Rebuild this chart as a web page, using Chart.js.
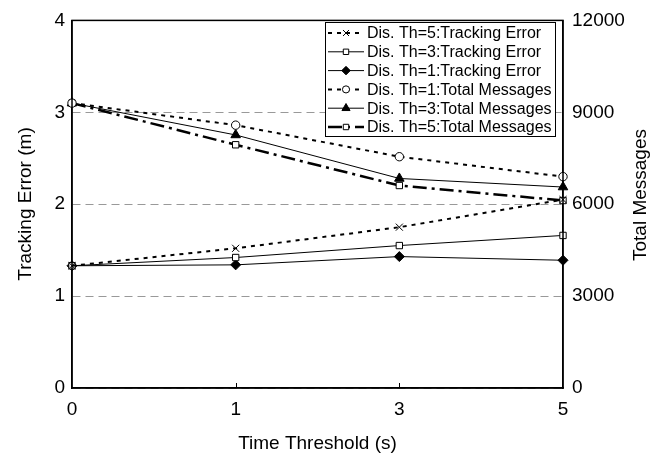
<!DOCTYPE html>
<html>
<head>
<meta charset="utf-8">
<script src="https://cdn.jsdelivr.net/npm/chart.js@4.4.1/dist/chart.umd.min.js"></script>
<style>
html,body{margin:0;padding:0;background:#fff;}
#wrap{width:656px;height:456px;position:relative;}
</style>
</head>
<body>
<div id="wrap"><canvas id="c" width="656" height="456"></canvas></div>
<script>
// Data
const categories = ['0', '1', '3', '5'];
const te_th5 = [1.33, 1.52, 1.75, 2.05];
const te_th3 = [1.33, 1.42, 1.55, 1.66];
const te_th1 = [1.33, 1.34, 1.43, 1.39];
const tm_th1 = [9300, 8580, 7550, 6900];
const tm_th3 = [9300, 8260, 6840, 6560];
const tm_th5 = [9300, 7940, 6610, 6120];
const leftTicks = [0, 1, 2, 3, 4];
const rightTicks = [0, 3000, 6000, 9000, 12000];
const labels = ['Dis. Th=5:Tracking Error','Dis. Th=3:Tracking Error','Dis. Th=1:Tracking Error',
                'Dis. Th=1:Total Messages','Dis. Th=3:Total Messages','Dis. Th=5:Total Messages'];
const xTitle = 'Time Threshold (s)';
const yTitle = 'Tracking Error (m)';
const y2Title = 'Total Messages';

const FONT = "'Liberation Sans', Arial, Helvetica, sans-serif";

function ds(label, data, axis, style, width, dash, fill, radius, rot) {
  return {
    label, data, yAxisID: axis,
    borderColor: '#000', borderWidth: width, borderDash: dash,
    pointStyle: style, pointRadius: radius, pointRotation: rot || 0,
    pointBackgroundColor: fill, pointBorderColor: '#000', pointBorderWidth: 1,
    tension: 0, fill: false
  };
}

const datasets = [
  ds(labels[0], te_th5, 'y', 'cross', 2, [4,5], '#000', 5, 45),
  ds(labels[1], te_th3, 'y', 'rect', 1, [], '#fff', 4.5),
  ds(labels[2], te_th1, 'y', 'rectRot', 1, [], '#000', 5),
  ds(labels[3], tm_th1, 'y2', 'circle', 2, [4,5], '#fff', 4.2),
  ds(labels[4], tm_th3, 'y2', 'triangle', 1, [], '#000', 5.5),
  ds(labels[5], tm_th5, 'y2', 'rect', 2.5, [14,5,3,5], '#fff', 4.5),
];

const frameLegend = {
  id: 'frameLegend',
  afterDatasetsDraw(chart) {
    const ctx = chart.ctx, a = chart.chartArea;
    ctx.save();
    // frame
    ctx.strokeStyle = '#000'; ctx.lineWidth = 1.5; ctx.setLineDash([]);
    ctx.strokeRect(a.left, a.top, a.right - a.left, a.bottom - a.top);
    // inward x ticks
    const xs = chart.scales.x;
    ctx.lineWidth = 1;
    for (let i = 1; i < categories.length - 1; i++) {
      const px = Math.round(xs.getPixelForValue(i)) + 0.5;
      ctx.beginPath(); ctx.moveTo(px, a.bottom); ctx.lineTo(px, a.bottom - 5); ctx.stroke();
    }
    // axis titles
    ctx.fillStyle = '#000';
    ctx.font = '19px ' + FONT;
    ctx.textAlign = 'center'; ctx.textBaseline = 'middle';
    ctx.fillText(xTitle, (a.left + a.right) / 2, 444);
    ctx.save(); ctx.translate(26, 204); ctx.rotate(-Math.PI / 2); ctx.fillText(yTitle, 0, 0); ctx.restore();
    ctx.save(); ctx.translate(641, 195); ctx.rotate(-Math.PI / 2); ctx.fillText(y2Title, 0, 0); ctx.restore();
    // legend
    const bx = 325.5, by = 22.5, bw = 230, bh = 114;
    ctx.fillStyle = '#fff'; ctx.fillRect(bx, by, bw, bh);
    ctx.strokeStyle = '#000'; ctx.lineWidth = 1; ctx.strokeRect(bx, by, bw, bh);
    ctx.font = '16px ' + FONT;
    ctx.textBaseline = 'middle'; ctx.textAlign = 'left';
    const rowH = 18.8, y0 = 33;
    chart.data.datasets.forEach((d, i) => {
      const y = y0 + i * rowH;
      ctx.strokeStyle = '#000'; ctx.lineWidth = d.borderWidth;
      ctx.setLineDash(d.borderDash || []);
      ctx.beginPath(); ctx.moveTo(328, y); ctx.lineTo(364, y); ctx.stroke();
      ctx.setLineDash([]);
      ctx.fillStyle = d.pointBackgroundColor; ctx.strokeStyle = '#000'; ctx.lineWidth = 1;
      Chart.helpers.drawPoint(ctx, {pointStyle: d.pointStyle, rotation: d.pointRotation, radius: d.pointRadius * 0.85, borderWidth: 1}, 346, y);
      ctx.fillStyle = '#000';
      ctx.fillText(d.label, 367, y + 1);
    });
    ctx.restore();
  }
};

new Chart(document.getElementById('c'), {
  type: 'line',
  data: { labels: categories, datasets },
  options: {
    responsive: false, animation: false,
    layout: { padding: { top: 16, left: 0, right: 0, bottom: 0 } },
    plugins: { legend: { display: false }, tooltip: { enabled: false } },
    scales: {
      x: {
        type: 'category', offset: false,
        grid: { display: false },
        border: { display: true, color: '#000', width: 1.5 },
        ticks: { color: '#000', font: { size: 19, family: FONT }, padding: 2, maxRotation: 0 },
        afterFit(s) { s.height = 68; }
      },
      y: {
        position: 'left', min: 0, max: 4,
        afterBuildTicks(s) { s.ticks = leftTicks.map(v => ({ value: v })); },
        grid: { color: '#999', lineWidth: 1, tickLength: 0, drawTicks: false },
        border: { display: true, color: '#000', width: 1.5, dash: [8, 5] },
        ticks: { color: '#000', font: { size: 19, family: FONT }, padding: 7, callback: v => String(v) },
        afterFit(s) { s.width = 72; }
      },
      y2: {
        position: 'right', min: 0, max: 12000,
        afterBuildTicks(s) { s.ticks = rightTicks.map(v => ({ value: v })); },
        grid: { drawOnChartArea: false, drawTicks: false, tickLength: 0 },
        border: { display: true, color: '#000', width: 1.5 },
        ticks: { color: '#000', font: { size: 19, family: FONT }, padding: 9, callback: v => String(v) },
        afterFit(s) { s.width = 93; }
      }
    }
  },
  plugins: [frameLegend]
});
</script>
</body>
</html>
